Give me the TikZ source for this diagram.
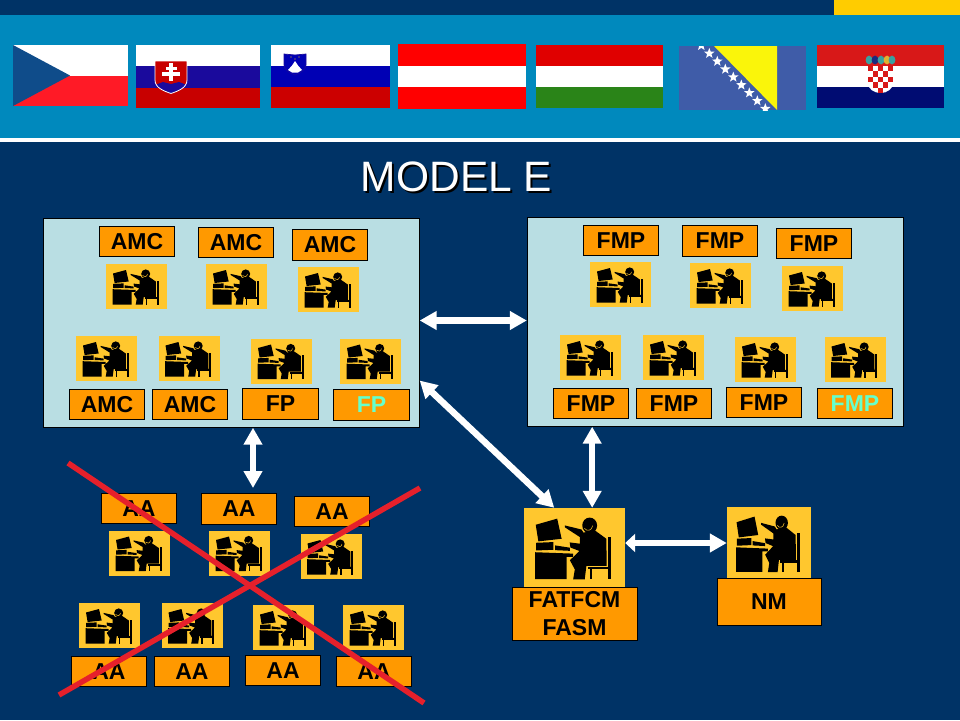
\documentclass[tikz,border=0pt]{standalone}
\usepackage{fontspec}
\setmainfont{Liberation Sans}
\usepackage{tikz}
\usetikzlibrary{arrows.meta}
\usetikzlibrary{shapes.geometric}

\definecolor{navy}{HTML}{003366}
\definecolor{bandblue}{HTML}{0089BD}
\definecolor{topgold}{HTML}{FFCC00}
\definecolor{panelblue}{HTML}{B9DEE3}
\definecolor{laborange}{HTML}{FF9900}
\definecolor{opyellow}{HTML}{FFC72E}
\definecolor{mintfp}{HTML}{66FFCC}
\definecolor{crossred}{HTML}{E6202B}
\definecolor{czred}{HTML}{FF1A26}
\definecolor{czblue}{HTML}{0F4C8A}
\definecolor{skblue}{HTML}{1A0A9C}
\definecolor{skred}{HTML}{C80000}
\definecolor{siblue}{HTML}{0000B4}
\definecolor{sired}{HTML}{CC0000}
\definecolor{hured}{HTML}{E00000}
\definecolor{hugreen}{HTML}{2A8418}
\definecolor{bablue}{HTML}{3F5CA8}
\definecolor{bayellow}{HTML}{FAF50A}
\definecolor{hrred}{HTML}{D81818}
\definecolor{hrblue}{HTML}{000C72}
\definecolor{crownteal}{HTML}{3AA0A0}
\definecolor{crownblue}{HTML}{1A2A80}
\definecolor{crowngold}{HTML}{E0B030}

\tikzset{
    panel/.style = {draw = black, fill = panelblue, minimum width = 376pt, minimum height = 209pt, inner sep = 0pt},
    lab/.style = {draw = black, fill = laborange, line width = .8pt, minimum width = 75.5pt, minimum height = 30.5pt,
        inner sep = 0pt, font = \fontsize{23}{28}\selectfont\bfseries, text = black},
    opbox/.style = {fill = opyellow, minimum width = 61pt, minimum height = 45pt, inner sep = 0pt},
    linkarrow/.style = {draw = white, line width = 6.5pt, {Triangle[length=17pt,width=18pt]}-{Triangle[length=17pt,width=18pt]}},
    crossline/.style = {draw = crossred, line width = 5.5pt},
    opfig/.pic = {
        \begin{scope}[shift = {(-30.5,-22.5)}]
        \fill[black] (7,9.5)--(20,6)--(22.7,17.5)--(8.6,19)--cycle;
        \fill[black] (7.2,19.8)--(17.7,19.4)--(17.7,23.8)--(7.2,24.2)--cycle;
        \fill[black] (18.7,21.3)--(27.7,22.6)--(27.7,24.4)--(18.7,24)--cycle;
        \fill[black] (6.6,25.2)--(29.7,26)--(29.7,27.8)--(25.7,27.8)--(25.7,40.6)--(6.6,40.6)--cycle;
        \fill[black] (39.7,9.9) circle (4.5);
        \fill[black] (24.7,9.9)--(34.7,12.2)--(36,14)--(42.8,12.7)--(49.8,17.5)--(50,33)--(37.7,33)--(36.7,40.7)
            --(29.7,40.7)--(30.7,35)--(27.7,29.8)--(33.5,24.5)--(28,22.5)--(27.6,19.6)--(33.7,20.3)--(33.7,16.5)--(24.7,11)--cycle;
        \draw[opyellow, line width = .5pt] (36.5,11.5) .. controls (38,13.5) and (41,13) .. (41.5,10);
        \fill[black] (50.8,16.5) rectangle (52.8,40.6);
        \fill[black] (38.7,33.4) rectangle (52.8,35);
        \fill[black] (39.7,35) rectangle (41.3,40.6);
        \end{scope}
    }
}

\begin{document}
\begin{tikzpicture}[x = 1pt, y = -1pt]
    \useasboundingbox (0,0) rectangle (960,720);
    \fill[navy] (0,0) rectangle (960,720);
    \fill[topgold] (834,0) rectangle (960,15);
    \fill[bandblue] (0,15) rectangle (960,138);
    \fill[white] (0,138) rectangle (960,142);

    % flags
    \fill[white] (13,45) rectangle (128,75.5);
    \fill[czred] (13,75.5) rectangle (128,106);
    \fill[czblue] (13,45)--(70,75.5)--(13,106)--cycle;

    \fill[white] (136,45) rectangle (260,66);
    \fill[skblue] (136,66) rectangle (260,87.5);
    \fill[skred] (136,87.5) rectangle (260,108);
    \begin{scope}
        \clip (155,61)--(187,61)--(187,80)
            .. controls (187,88) and (178,91) .. (171,93.5) .. controls (164,91) and (155,88) .. (155,80)--cycle;
        \fill[skred] (155,61) rectangle (187,94);
        \fill[skblue] (155,94)--(155,85)--(163,82)--(171,84)--(179,82)--(187,85)--(187,94)--cycle;
    \end{scope}
    \draw[white, line width = .8pt] (155,61)--(187,61)--(187,80)
        .. controls (187,88) and (178,91) .. (171,93.5) .. controls (164,91) and (155,88) .. (155,80)--cycle;
    \fill[white] (169.3,62.7) rectangle (172.7,81);
    \fill[white] (165.5,66.8) rectangle (176.5,69.8);
    \fill[white] (161.7,72.3) rectangle (180.3,75.8);

    \fill[white] (271,45) rectangle (390,66);
    \fill[siblue] (271,66) rectangle (390,87);
    \fill[sired] (271,87) rectangle (390,108);
    \draw[fill = siblue, draw = skblue, line width = .7pt] (284,54)--(295,55)--(306,54)--(306,65)
        .. controls (306,70) and (300,73) .. (295,75) .. controls (290,73) and (284,70) .. (284,65)--cycle;
    \fill[white] (288,70)--(292,65.5)--(295,61)--(298,65.5)--(302,70)--(298,72.5)--(292,72.5)--cycle;
    \foreach \x/\y in {291/57, 299/57, 295/59}
        \fill[topgold] (\x,\y) circle (.7);

    \fill[red] (398,44) rectangle (526,109);
    \fill[white] (398,65.5) rectangle (526,87);

    \fill[hured] (536,45) rectangle (663,66);
    \fill[white] (536,66) rectangle (663,86.5);
    \fill[hugreen] (536,86.5) rectangle (663,108);

    \fill[bablue] (679,46) rectangle (806,110);
    \fill[bayellow] (714,46)--(777,46)--(777,110)--cycle;
    \begin{scope}
        \clip (679,46) rectangle (806,110);
        \foreach \i in {0,...,8}
            \node[star, star points = 5, star point ratio = 2.4, fill = white, inner sep = 0pt, minimum size = 11pt]
                (bhstar\i) at (701.3+8*\i,45.5+7.9*\i) {};
    \end{scope}

    \fill[hrred] (817,45) rectangle (944,66);
    \fill[white] (817,66) rectangle (944,87);
    \fill[hrblue] (817,87) rectangle (944,108);
    \fill[white] (868,66)--(893,66)--(893,83) .. controls (893,89) and (887,93) .. (880.5,93)
        .. controls (874,93) and (868,89) .. (868,83)--cycle;
    \foreach \i/\j in {0/0,2/0,4/0,1/1,3/1,0/2,2/2,4/2,1/3,3/3,2/4}
        \fill[hrred] (868+5*\i,66+5.4*\j) rectangle +(5,5.4);
    \foreach \i/\c in {869/crownteal,875/crownblue,881/crownteal,887/crowngold,892/crownteal}
        \fill[\c] (\i,60) ellipse (3.4 and 4.4);

    \node[font = \fontsize{42.5}{42.5}\selectfont, text = black] (titleshadow) at (458.5,178.5) {MODEL E};
    \node[font = \fontsize{42.5}{42.5}\selectfont, text = white] (title) at (456.5,176.5) {MODEL E};

    % panels
    \node[panel] (amcpanel) at (231.5,323) {};
    \node[panel] (fmppanel) at (715,322) {};

    % operators
    \foreach \name/\x/\y in {amcopa/136.5/286.5, amcopb/236.5/286.5, amcopc/328.5/289.5,
        amcopd/106.5/358.5, amcope/189/358.5, fpopa/281.5/361, fpopb/370.5/361,
        fmpopa/620.5/284.5, fmpopb/720.5/285.5, fmpopc/812.5/288.5, fmpopd/590.5/357.5,
        fmpope/673.5/357.5, fmpopf/765.5/359.5, fmpopg/855/359.5,
        aaopa/139.5/553, aaopb/239.5/553, aaopc/331/556.5, aaopd/109.5/625.5,
        aaope/192/625.5, aaopf/283.5/627.5, aaopg/373.5/627.5}
    {
        \node[opbox] (\name) at (\x,\y) {};
        \pic at (\name.center) {opfig};
    }
    \node[opbox, minimum width = 101pt, minimum height = 79pt] (fatfop) at (574.5,547.5) {};
    \pic[xscale = 1.65, yscale = 1.75] at (fatfop.center) {opfig};
    \node[opbox, minimum width = 84pt, minimum height = 72pt] (nmop) at (769,543) {};
    \pic[xscale = 1.38, yscale = 1.6] at (nmop.center) {opfig};

    % labels
    \foreach \name/\txt/\x/\y in {amca/AMC/137/241.5, amcb/AMC/236/242.5, amcc/AMC/330/245,
        amcd/AMC/107/404.5, amce/AMC/190/404.5, fpa/FP/280.5/404,
        fmpa/FMP/621/240.5, fmpb/FMP/720/241, fmpc/FMP/814/243.5, fmpd/FMP/591/403.5,
        fmpe/FMP/674/403.5, fmpf/FMP/764/402.5,
        aaa/AA/139/508.5, aab/AA/239/509, aac/AA/332/511.5, aad/AA/109/671.5,
        aae/AA/192/671.5, aaf/AA/283/670.5, aag/AA/374/671.5}
        \node[lab] (\name) at (\x,\y) {\txt};
    \node[lab, text = mintfp] (fpb) at (371.5,405) {FP};
    \node[lab, text = mintfp] (fmpg) at (855,403.5) {FMP};
    \node[lab, minimum width = 125pt, minimum height = 53pt, align = center] (fatflab) at (574.5,613.5) {FATFCM\\FASM};
    \node[lab, minimum width = 104pt, minimum height = 47pt] (nmlab) at (769,601.5) {NM};

    % arrows
    \coordinate (aalink) at (253,488);
    \coordinate (panellink) at (473,320.5);
    \coordinate (nmlink) at (676,543);
    \draw[linkarrow] (amcpanel.east |- panellink)--(fmppanel.west |- panellink);
    \draw[linkarrow] (aalink |- amcpanel.south)--(aalink);
    \draw[linkarrow] (amcpanel.-17)--(fatfop.117);
    \draw[linkarrow] (fatfop.66 |- fmppanel.south)--(fatfop.66);
    \draw[linkarrow, {Triangle[length=10pt,width=18pt]}-{Triangle[length=17pt,width=18pt]}] (fatfop.east |- nmlink)--(nmop.west);

    % cross
    \coordinate (crossa) at (68,463);
    \coordinate (crossb) at (424,703);
    \coordinate (crossc) at (420,488);
    \coordinate (crossd) at (59,695);
    \draw[crossline] (crossa)--(crossb);
    \draw[crossline] (crossc)--(crossd);
\end{tikzpicture}
\end{document}
